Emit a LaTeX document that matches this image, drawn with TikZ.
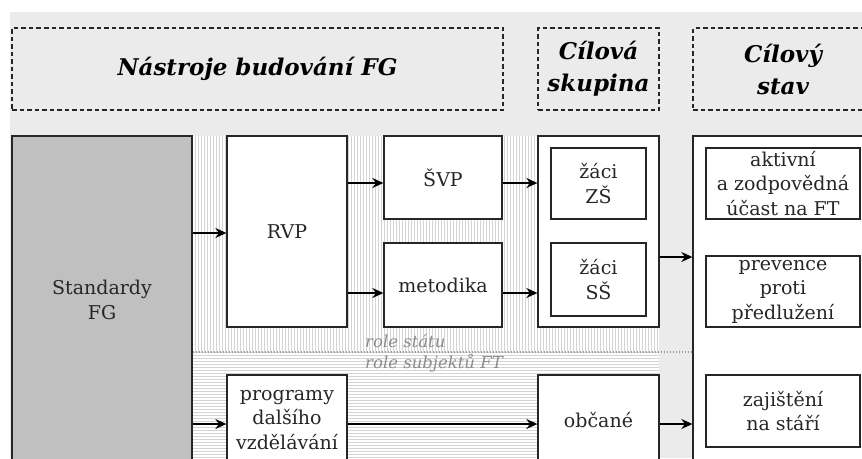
\documentclass[tikz,border=0pt]{standalone}
\usepackage{fontspec}
\setmainfont{DejaVu Serif}
\usetikzlibrary{patterns,arrows.meta}
\definecolor{bg}{HTML}{EBEBEB}
\definecolor{stdgray}{HTML}{C0C0C0}
\definecolor{stripe}{HTML}{D4D4D4}
\begin{document}
\begin{tikzpicture}[x=1pt,y=-1pt,
  box/.style={draw=black!85, line width=1.3pt, fill=white, align=center, inner sep=0pt,
    font=\fontsize{19}{24.5}\selectfont, text=black!85},
  hdr/.style={draw=black!85, line width=1.3pt, dash pattern=on 4.5pt off 3pt, fill=bg, align=center,
    inner sep=0pt, font=\fontsize{23}{32}\selectfont\bfseries\itshape},
  arr/.style={line width=1.7pt, -{Stealth[length=11pt,width=10pt]}},
  role/.style={font=\fontsize{16.5}{18}\selectfont\itshape, text=black!45, inner sep=0pt},
  divider/.style={line width=1.4pt, black!40, dash pattern=on 1.5pt off 1.5pt}
]
\useasboundingbox (0,0) rectangle (862,458);
\clip (0,0) rectangle (862,458);
\fill[bg] (10,12) rectangle (862,458);

% striped regions
\fill[white] (192,136) rectangle (659,470);
\fill[pattern=vertical lines, pattern color=stripe] (192,136) rectangle (659,352);
\fill[pattern=horizontal lines, pattern color=stripe] (192,352) rectangle (659,470);

% headers
\node[hdr, minimum width=491pt, minimum height=82pt] (h1) at (257.5,69) {Nástroje budování FG};
\node[hdr, minimum width=121pt, minimum height=82pt] (h2) at (598.5,69) {Cílová\\skupina};
\node[hdr, minimum width=180pt, minimum height=82pt] (h3) at (783,69) {Cílový\\stav};

% main boxes
\node[box, fill=stdgray, minimum width=180pt, minimum height=328pt] (std) at (102,300) {Standardy\\FG};
\node[box, minimum width=120pt, minimum height=191pt] (rvp) at (287,231.5) {RVP};
\node[box, minimum width=118pt, minimum height=83pt] (svp) at (443,177.5) {ŠVP};
\node[box, minimum width=118pt, minimum height=84pt] (met) at (443,285) {metodika};
\node[box, minimum width=121pt, minimum height=191pt] (grp) at (598.5,231.5) {};
\node[box, minimum width=95pt, minimum height=71pt] (zs) at (598.5,183.5) {žáci\\ZŠ};
\node[box, minimum width=95pt, minimum height=73pt] (ss) at (598.5,279.5) {žáci\\SŠ};
\node[box, minimum width=180pt, minimum height=340pt] (goal) at (783,306) {};
\node[box, minimum width=154pt, minimum height=71pt] (akt) at (783,183.5) {aktivní\\a zodpovědná\\účast na FT};
\node[box, minimum width=154pt, minimum height=71pt] (prev) at (783,291.5) {prevence\\proti\\předlužení};
\node[box, minimum width=154pt, minimum height=72pt] (zaj) at (783,411) {zajištění\\na stáří};
\node[box, minimum width=120pt, minimum height=90pt] (prog) at (287,420) {programy\\dalšího\\vzdělávání};
\node[box, minimum width=121pt, minimum height=90pt] (obc) at (598.5,420) {občané};

% divider and role labels
\draw[divider] (std.east |- 0,352) -- (goal.west |- 0,352);
\node[role, anchor=west] (rst) at (365,341) {role státu};
\node[role, anchor=west] (rsub) at (365,363) {role subjektů FT};

% arrows
\draw[arr] (std.east |- 0,233) -- (rvp.west |- 0,233);
\draw[arr] (rvp.east |- 0,183) -- (svp.west |- 0,183);
\draw[arr] (rvp.east |- 0,293) -- (met.west |- 0,293);
\draw[arr] (svp.east |- 0,183) -- (grp.west |- 0,183);
\draw[arr] (met.east |- 0,293) -- (grp.west |- 0,293);
\draw[arr] (grp.east |- 0,257) -- (goal.west |- 0,257);
\draw[arr] (std.east |- 0,424) -- (prog.west |- 0,424);
\draw[arr] (prog.east |- 0,424) -- (obc.west |- 0,424);
\draw[arr] (obc.east |- 0,424) -- (goal.west |- 0,424);
\end{tikzpicture}
\end{document}
